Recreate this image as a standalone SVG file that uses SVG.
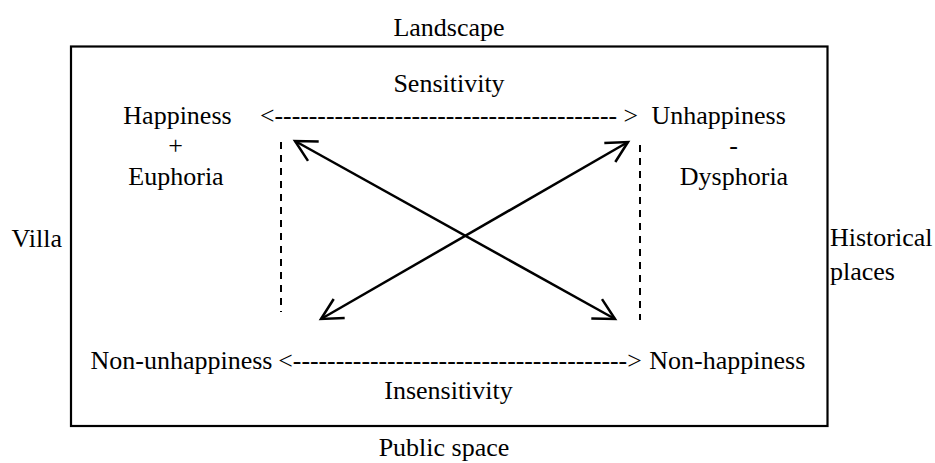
<svg xmlns="http://www.w3.org/2000/svg" width="935" height="463" viewBox="0 0 935 463">
<style>
  text { font-family: "Liberation Serif", "Times New Roman", serif; font-size: 26px; fill: #000; }
  .c { text-anchor: middle; }
  .dash { stroke: #000; stroke-width: 2; stroke-dasharray: 7 6; fill: none; }
  .arrow { stroke: #000; stroke-width: 2.5; fill: none; marker-start: url(#head); marker-end: url(#head); }
</style>
<defs>
  <marker id="head" markerUnits="userSpaceOnUse" markerWidth="40" markerHeight="40" viewBox="-30 -20 40 40" refX="0" refY="0" orient="auto-start-reverse" overflow="visible">
    <path d="M-21,-11 L0,0 L-21,11" fill="none" stroke="#000" stroke-width="2.5" stroke-linejoin="miter"/>
  </marker>
</defs>
<rect width="935" height="463" fill="#fff"/>
<g id="frame">
  <rect x="71" y="46.5" width="756.5" height="379.5" fill="none" stroke="#000" stroke-width="2.2"/>
</g>
<g id="outer-labels">
  <text id="landscape" class="c" x="449" y="36">Landscape</text>
  <text id="public-space" class="c" x="444" y="456">Public space</text>
  <text id="villa" x="11.5" y="246.5">Villa</text>
  <g id="historical-places">
    <text x="830" y="246">Historical</text>
    <text x="830" y="280">places</text>
  </g>
</g>
<g id="happiness">
  <text class="c" x="177.5" y="123.5">Happiness</text>
  <text class="c" x="175.5" y="154">+</text>
  <text class="c" x="176" y="184.5">Euphoria</text>
</g>
<g id="unhappiness">
  <text x="651.5" y="123.5">Unhappiness</text>
  <text class="c" x="733.5" y="154">-</text>
  <text class="c" x="734" y="184.5">Dysphoria</text>
</g>
<g id="non-unhappiness">
  <text x="90.5" y="368.5">Non-unhappiness</text>
</g>
<g id="non-happiness">
  <text x="649.3" y="368.5">Non-happiness</text>
</g>
<g id="sensitivity">
  <text class="c" x="449" y="92">Sensitivity</text>
</g>
<g id="insensitivity">
  <text class="c" x="448.5" y="398.5">Insensitivity</text>
</g>
<g id="connectors">
  <text x="260" y="123.5" textLength="378" lengthAdjust="spacingAndGlyphs">&lt;---------------------------------------- &gt;</text>
  <text x="278.3" y="368.5" textLength="363.4" lengthAdjust="spacingAndGlyphs">&lt;---------------------------------------&gt;</text>
  <line class="dash" x1="281" y1="142" x2="281" y2="312"/>
  <line class="dash" x1="640" y1="145" x2="640" y2="320"/>
  <line class="arrow" x1="295" y1="141" x2="615" y2="319"/>
  <line class="arrow" x1="321" y1="319" x2="628" y2="142"/>
</g>
</svg>
